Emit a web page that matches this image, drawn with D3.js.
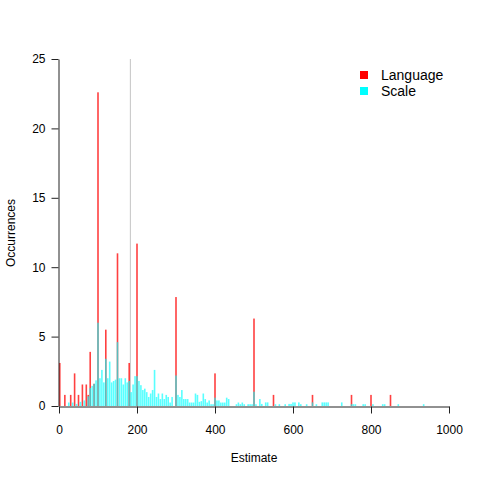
<!DOCTYPE html>
<html>
<head>
<meta charset="utf-8">
<style>
  body { margin: 0; background: #fff; }
  text { font-family: "Liberation Sans", Arial, sans-serif; fill: #000; }
</style>
</head>
<body>
<svg id="chart" width="480" height="480"></svg>
<script src="https://cdn.jsdelivr.net/npm/d3@7"></script>
<script>
// Language estimates: value and occurrences
var langValues = [2, 15, 30, 40, 50, 60, 70, 75, 80, 90, 100, 120, 150, 180, 200, 300, 400, 500, 550, 650, 750, 800, 850];
var langCounts = [3.1, 0.8, 0.8, 2.35, 0.8, 1.55, 1.55, 0.8, 3.9, 1.6, 22.6, 5.5, 11.0, 3.1, 11.7, 7.85, 2.35, 6.3, 0.8, 0.8, 0.8, 0.8, 0.8];

// Scale estimates
var scaleValues = [25, 35, 45, 55, 65, 75, 80, 85, 90, 95, 100, 105, 110, 115, 120, 125, 130, 135, 140, 145,
  150, 155, 160, 165, 170, 175, 180, 185, 190, 195, 200, 205, 210, 215, 220, 225, 230, 235, 240, 245,
  250, 255, 260, 265, 270, 275, 280, 285, 290, 300, 305, 310, 315, 320, 325, 330, 335, 340, 345, 350,
  355, 360, 365, 370, 375, 380, 385, 390, 395, 400, 405, 410, 415, 420, 425, 430, 435, 455, 460, 465,
  470, 475, 485, 490, 495, 500, 505, 515, 520, 530, 535, 555, 565, 580, 590, 595, 600, 605, 615, 620,
  635, 650, 660, 675, 680, 685, 690, 725, 750, 755, 760, 780, 785, 805, 830, 835, 870, 935];
var scaleCounts = [0.25, 0.25, 0.15, 0.3, 0.4, 0.7, 1.3, 1.45, 1.6, 1.85, 6.0, 2.0, 2.6, 1.7, 3.4, 2.0, 3.2, 1.7, 1.8, 1.9,
  4.6, 2.0, 2.0, 1.55, 2.0, 1.7, 1.8, 1.0, 1.55, 2.15, 2.15, 1.8, 1.5, 1.15, 1.25, 1.0, 0.65, 0.9, 1.15, 2.6,
  0.65, 0.9, 0.5, 0.9, 0.5, 0.8, 0.65, 0.25, 0.65, 2.2, 0.8, 0.65, 1.15, 0.5, 0.5, 0.5, 0.25, 0.25, 0.25, 0.9,
  0.8, 0.3, 0.35, 0.9, 0.5, 0.25, 0.4, 0.13, 0.13, 0.6, 0.4, 0.4, 0.25, 0.25, 0.25, 0.6, 0.5, 0.13, 0.25, 0.13,
  0.25, 0.13, 0.13, 0.13, 0.13, 1.03, 0.13, 0.5, 0.15, 0.26, 0.26, 0.13, 0.13, 0.13, 0.15, 0.15, 0.26, 0.26, 0.26, 0.13,
  0.13, 0.26, 0.13, 0.26, 0.26, 0.26, 0.26, 0.26, 0.13, 0.13, 0.13, 0.13, 0.13, 0.13, 0.13, 0.13, 0.13, 0.13];

var trueValue = 183;
var xTicks = [0, 200, 400, 600, 800, 1000];
var yTicks = [0, 5, 10, 15, 20, 25];
var seriesNames = ["Language", "Scale"];
var seriesColors = ["#ff0000", "#00ffff"];

var svg = d3.select("#chart");
var x = d3.scaleLinear().domain([0, 1000]).range([59, 449]);
var y = d3.scaleLinear().domain([0, 25]).range([406, 59]);

// reference line
svg.append("line")
  .attr("x1", x(trueValue)).attr("x2", x(trueValue))
  .attr("y1", y(0)).attr("y2", y(25))
  .attr("stroke", "#c4c4c4").attr("stroke-width", 1);

var lang = langValues.map(function(v, i) { return { v: v, c: langCounts[i] }; });
var scale = scaleValues.map(function(v, i) { return { v: v, c: scaleCounts[i] }; });

svg.append("g").selectAll("rect")
  .data(lang).enter().append("rect")
  .attr("x", function(d) { return x(d.v) - 0.8; })
  .attr("width", 1.6)
  .attr("y", function(d) { return y(d.c); })
  .attr("height", function(d) { return y(0) - y(d.c); })
  .attr("fill", seriesColors[0])
  .attr("fill-opacity", 0.75);

svg.append("g").selectAll("rect")
  .data(scale).enter().append("rect")
  .attr("x", function(d) { return x(d.v) - 0.8; })
  .attr("width", 1.6)
  .attr("y", function(d) { return y(d.c); })
  .attr("height", function(d) { return y(0) - y(d.c); })
  .attr("fill", seriesColors[1])
  .attr("fill-opacity", 0.65);

// axes
var xAxis = svg.append("g")
  .attr("transform", "translate(0,406.5)")
  .call(d3.axisBottom(x).tickValues(xTicks).tickFormat(d3.format("d")).tickSize(7).tickSizeOuter(0).tickPadding(12));
var yAxis = svg.append("g")
  .attr("transform", "translate(58.5,0)")
  .call(d3.axisLeft(y).tickValues(yTicks).tickFormat(d3.format("d")).tickSize(7).tickSizeOuter(0).tickPadding(6));
[xAxis, yAxis].forEach(function(a) {
  a.selectAll("path,line").attr("stroke", "#222");
  a.selectAll("text").attr("font-size", 12).attr("font-family", "Liberation Sans, Arial, sans-serif").attr("fill", "#000");
});

svg.append("text")
  .attr("x", 254).attr("y", 462)
  .attr("text-anchor", "middle").attr("font-size", 12)
  .text("Estimate");
svg.append("text")
  .attr("transform", "translate(15,233) rotate(-90)")
  .attr("text-anchor", "middle").attr("font-size", 12)
  .text("Occurrences");

// legend
var legend = svg.append("g");
seriesNames.forEach(function(name, i) {
  legend.append("rect")
    .attr("x", 360).attr("y", 71 + i * 16)
    .attr("width", 8).attr("height", 8)
    .attr("fill", seriesColors[i]);
  legend.append("text")
    .attr("x", 381).attr("y", 80 + i * 16)
    .attr("font-size", 14)
    .text(name);
});
</script>
</body>
</html>
